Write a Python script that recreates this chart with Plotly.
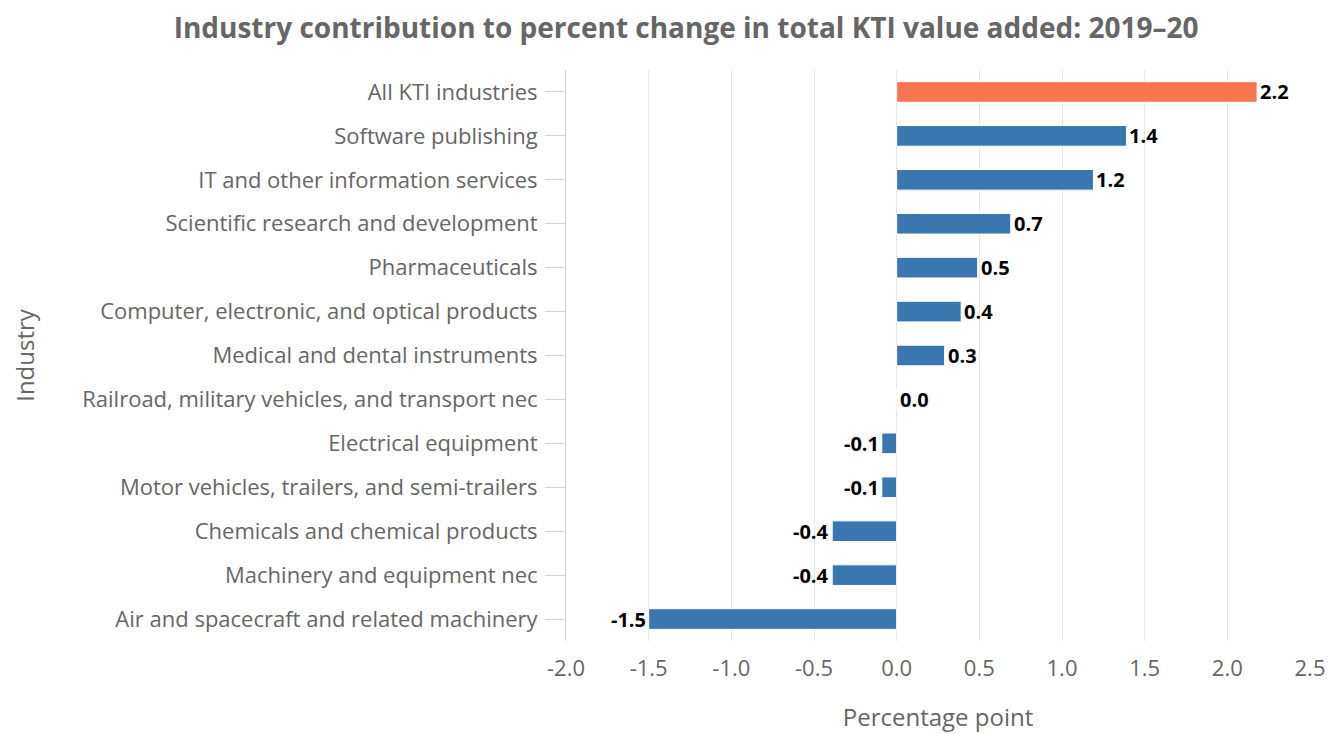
import plotly.graph_objects as go

industries = [
    "All KTI industries",
    "Software publishing",
    "IT and other information services",
    "Scientific research and development",
    "Pharmaceuticals",
    "Computer, electronic, and optical products",
    "Medical and dental instruments",
    "Railroad, military vehicles, and transport nec",
    "Electrical equipment",
    "Motor vehicles, trailers, and semi-trailers",
    "Chemicals and chemical products",
    "Machinery and equipment nec",
    "Air and spacecraft and related machinery",
]
values = [2.18, 1.39, 1.19, 0.69, 0.49, 0.39, 0.29, 0.0, -0.09, -0.09, -0.39, -0.39, -1.5]
labels = ["2.2", "1.4", "1.2", "0.7", "0.5", "0.4", "0.3", "0.0", "-0.1", "-0.1", "-0.4", "-0.4", "-1.5"]
x_ticks = [-2.0, -1.5, -1.0, -0.5, 0.0, 0.5, 1.0, 1.5, 2.0, 2.5]

ORANGE = "#f7764f"
BLUE = "#3a77b1"
colors = [ORANGE] + [BLUE] * (len(values) - 1)

fig = go.Figure()
fig.add_trace(go.Bar(
    y=industries,
    x=values,
    orientation="h",
    marker=dict(color=colors, line=dict(color="white", width=1)),
    width=0.47,
    hoverinfo="x+y",
))

for cat, v, lab in zip(industries, values, labels):
    fig.add_annotation(
        x=v, y=cat, text="<b>%s</b>" % lab, showarrow=False,
        xanchor="left" if v >= 0 else "right",
        xshift=1 if v >= 0 else -1,
        font=dict(family="Open Sans", size=20, color="#000000"),
    )

fig.update_layout(
    width=1327, height=726,
    paper_bgcolor="white", plot_bgcolor="white",
    margin=dict(l=558, r=25, t=62, b=93, autoexpand=False),
    font=dict(family="Open Sans", color="#666666"),
    title=dict(
        text="<b>Industry contribution to percent change in total KTI value added: 2019–20</b>",
        x=0.511, xanchor="center", y=0.972, yanchor="middle",
        font=dict(family="Open Sans", size=28, color="#666666"),
        automargin=False,
    ),
    showlegend=False,
    bargap=0.5,
)
fig.update_xaxes(
    automargin=False,
    range=[-2.0, 2.5],
    tickvals=x_ticks,
    ticktext=["%.1f" % t for t in x_ticks],
    showgrid=True, gridcolor="#e6e6e6", gridwidth=1,
    zeroline=True, zerolinecolor="#e6e6e6", zerolinewidth=1,
    showline=False,
    tickfont=dict(family="Open Sans", size=22, color="#666666"),
    title=dict(text="Percentage point", font=dict(family="Open Sans", size=24, color="#666666"), standoff=28),
    ticks="",
    ticklabelstandoff=12,
)
fig.update_yaxes(
    automargin=False,
    autorange="reversed",
    showgrid=False,
    showline=True, linecolor="#ccd6eb", linewidth=1,
    ticks="outside", ticklen=20, tickcolor="#ccd6eb",
    tickfont=dict(family="Open Sans", size=22, color="#666666"),
    title=dict(text="Industry", font=dict(family="Open Sans", size=24, color="#666666"), standoff=62),
    ticklabelstandoff=3,
)

fig.write_html("out.html")
